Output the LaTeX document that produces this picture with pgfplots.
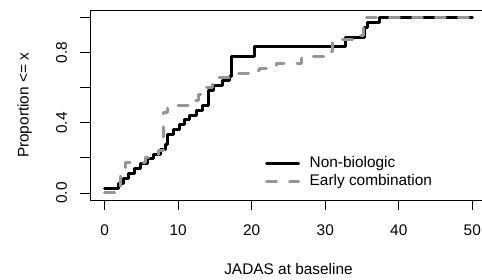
\documentclass[border=0pt]{standalone}
\usepackage{fontspec}
\setmainfont{Liberation Sans}
\usepackage{pgfplots}
\pgfplotsset{compat=1.18}
\definecolor{ecgrey}{RGB}{150,150,150}
\begin{document}
\fontsize{15.4bp}{18bp}\selectfont
\begin{tikzpicture}
\begin{axis}[
  at={(0,0)}, anchor=south west,
  scale only axis,
  width=397bp, height=189.3bp,
  xmin=-2, xmax=52, ymin=-0.04, ymax=1.04,
  axis line style={line width=0.9bp},
  xtick={0,10,20,30,40,50},
  ytick={0,0.2,0.4,0.6,0.8,1.0},
  yticklabels={0.0,,0.4,,0.8,},
  tick align=outside,
  major tick length=9.5bp,
  tick style={line width=0.9bp, black},
  xtick pos=bottom, ytick pos=left,
  /pgf/number format/assume math mode=true,
  xticklabel style={font=\fontsize{15.4bp}{18bp}\selectfont, anchor=base, yshift=-26bp},
  yticklabel style={font=\fontsize{15.4bp}{18bp}\selectfont, rotate=90, anchor=base, yshift=13.5bp},
  xlabel={JADAS at baseline},
  ylabel={Proportion <= x},
  every axis x label/.style={at={(axis description cs:0.5,-0.3936)}, anchor=base},
  every axis y label/.style={at={(axis description cs:-0.1549,0.5)}, rotate=90, anchor=base},
  label style={font=\fontsize{15.4bp}{18bp}\selectfont},
  legend style={draw=none, fill=none, at={(axis cs:21.8,0.215)}, anchor=north west,
    font=\fontsize{15.4bp}{18bp}\selectfont, inner sep=0pt, row sep=2.5bp,
    nodes={inner sep=1pt}},
  legend cell align=left,
  legend image code/.code={\draw[#1] (0bp,0bp) -- (32bp,0bp); \path[draw=none] (0bp,0bp) -- (42bp,0bp);},
]
\addplot[const plot, black, line width=3bp, line cap=round, line join=round] coordinates {
(0,0.028) (1.9,0.056) (2.6,0.083) (3.3,0.111) (4.1,0.139) (4.9,0.167) (5.8,0.194)
(6.7,0.222) (7.6,0.250) (8.3,0.278) (8.6,0.333) (9.4,0.361) (10.2,0.389) (10.9,0.417)
(11.6,0.444) (12.5,0.472) (13.3,0.500) (14.1,0.583) (14.8,0.611) (16.0,0.639)
(17.0,0.667) (17.3,0.778) (20.4,0.833) (32.8,0.889) (35.4,0.944) (35.8,0.972)
(37.4,1.0) (50,1.0)};
\addlegendentry{Non-biologic}
\addplot[const plot, ecgrey, line width=3bp, line cap=round, line join=round, dash pattern=on 10bp off 13bp] coordinates {
(0,0.0) (2.2,0.1) (2.8,0.174) (5.5,0.2) (7.3,0.24) (8.0,0.46) (8.6,0.5) (11.6,0.53)
(12.8,0.56) (13.6,0.6) (14.6,0.62) (15.2,0.66) (18.0,0.68) (19.5,0.70) (21.0,0.71)
(23.3,0.74) (26.8,0.778) (29.7,0.806) (31.0,0.874) (34.0,0.90) (35.2,1.0) (50,1.0)};
\addlegendentry{Early combination}
\end{axis}
\pgfresetboundingbox
\path (-90bp,-80bp) rectangle (392bp,200bp);
\end{tikzpicture}
\end{document}
